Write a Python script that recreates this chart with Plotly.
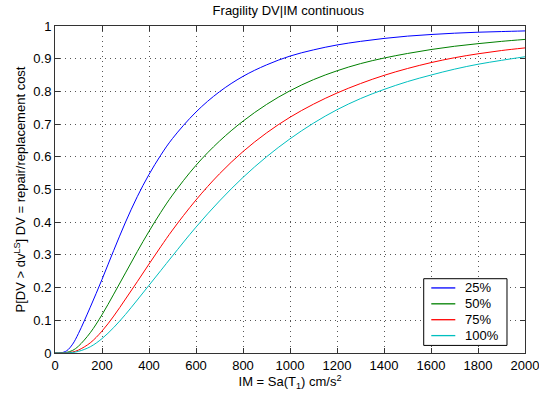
import plotly.graph_objects as go

# Intensity measure (x) values
im = [0, 25, 50, 75, 100, 150, 200, 250, 300, 350, 400, 450, 500, 600, 700, 800,
      900, 1000, 1100, 1200, 1300, 1400, 1500, 1600, 1700, 1800, 1900, 2000]

# Probability of exceedance for each loss level
p25 = [0, 0.0005, 0.007, 0.027, 0.06, 0.14, 0.225, 0.314, 0.4, 0.478, 0.546, 0.605,
       0.656, 0.737, 0.799, 0.846, 0.881, 0.908, 0.927, 0.942, 0.953, 0.962, 0.969,
       0.974, 0.978, 0.981, 0.983, 0.985]
p50 = [0, 0.0002, 0.002, 0.008, 0.021, 0.062, 0.117, 0.18, 0.245, 0.31, 0.372, 0.43,
       0.483, 0.574, 0.648, 0.709, 0.76, 0.802, 0.836, 0.863, 0.885, 0.902, 0.916,
       0.928, 0.938, 0.946, 0.953, 0.959]
p75 = [0, 0, 0.001, 0.003, 0.009, 0.031, 0.067, 0.113, 0.165, 0.218, 0.272, 0.325,
       0.376, 0.468, 0.548, 0.616, 0.673, 0.721, 0.761, 0.795, 0.824, 0.849, 0.87,
       0.888, 0.903, 0.915, 0.925, 0.933]
p100 = [0, 0, 0.0005, 0.0015, 0.005, 0.019, 0.044, 0.078, 0.118, 0.162, 0.207, 0.252,
        0.297, 0.385, 0.465, 0.537, 0.6, 0.655, 0.703, 0.744, 0.778, 0.806, 0.83,
        0.85, 0.868, 0.883, 0.895, 0.906]

series_names = ["25%", "50%", "75%", "100%"]
series_colors = ["#0000ff", "#008000", "#ff0000", "#00bfbf"]

x_ticks = [0, 200, 400, 600, 800, 1000, 1200, 1400, 1600, 1800, 2000]
x_ticktext = ["0", "200", "400", "600", "800", "1000", "1200", "1400", "1600", "1800", "2000"]
y_ticks = [0, 0.1, 0.2, 0.3, 0.4, 0.5, 0.6, 0.7, 0.8, 0.9, 1]
y_ticktext = ["0", "0.1", "0.2", "0.3", "0.4", "0.5", "0.6", "0.7", "0.8", "0.9", "1"]

FONT = "Liberation Sans, Arial, Helvetica, sans-serif"

fig = go.Figure()
for name, ys, col in zip(series_names, [p25, p50, p75, p100], series_colors):
    fig.add_trace(go.Scatter(x=im, y=ys, mode="lines", name=name, showlegend=False,
                             line=dict(color=col, width=1, shape="spline", smoothing=1)))

# MATLAB-style boxed legend, drawn in the plot-area (paper) frame
box = dict(x0=0.7845, x1=0.9617, y0=0.0232, y1=0.2272)
fig.add_shape(type="rect", xref="paper", yref="paper", layer="above",
              fillcolor="white", line=dict(color="black", width=1), **box)
entry_top, entry_step = 0.199, 0.0486
for i, (name, col) in enumerate(zip(series_names, series_colors)):
    yy = entry_top - i * entry_step
    fig.add_shape(type="line", xref="paper", yref="paper", layer="above",
                  x0=0.8006, x1=0.8517, y0=yy, y1=yy, line=dict(color=col, width=1.3))
    fig.add_annotation(xref="paper", yref="paper", x=0.868, y=yy, text=name,
                       showarrow=False, xanchor="left", yanchor="middle",
                       font=dict(family=FONT, size=13, color="black"))

axis_common = dict(
    showline=True, linecolor="#333333", linewidth=1, mirror="ticks",
    ticks="inside", ticklen=5, tickcolor="#333333",
    showgrid=True, gridcolor="#555555", gridwidth=1, griddash="1px,4px",
    zeroline=False, tickfont=dict(family=FONT, size=13, color="black"),
    ticklabeloverflow="allow", automargin=False,
)

fig.update_layout(
    width=539, height=393,
    margin=dict(l=55, r=14, t=26, b=40, autoexpand=False),
    paper_bgcolor="white", plot_bgcolor="white",
    font=dict(family=FONT, size=13, color="black"),
    title=dict(text="Fragility DV|IM continuous", x=0.535, xanchor="center",
               y=0.985, yanchor="top", font=dict(family=FONT, size=13)),
    xaxis=dict(range=[0, 2000], tickvals=x_ticks, ticktext=x_ticktext,
               title=dict(text="IM = Sa(T<sub>1</sub>) cm/s<sup>2</sup>", standoff=2,
                          font=dict(family=FONT, size=13)),
               **axis_common),
    yaxis=dict(range=[0, 1], tickvals=y_ticks, ticktext=y_ticktext,
               title=dict(text="P[DV > dv<sup>LS</sup>] DV = repair/replacement cost",
                          standoff=4, font=dict(family=FONT, size=13)),
               **axis_common),
    showlegend=False,
)

fig.write_html("out.html")
